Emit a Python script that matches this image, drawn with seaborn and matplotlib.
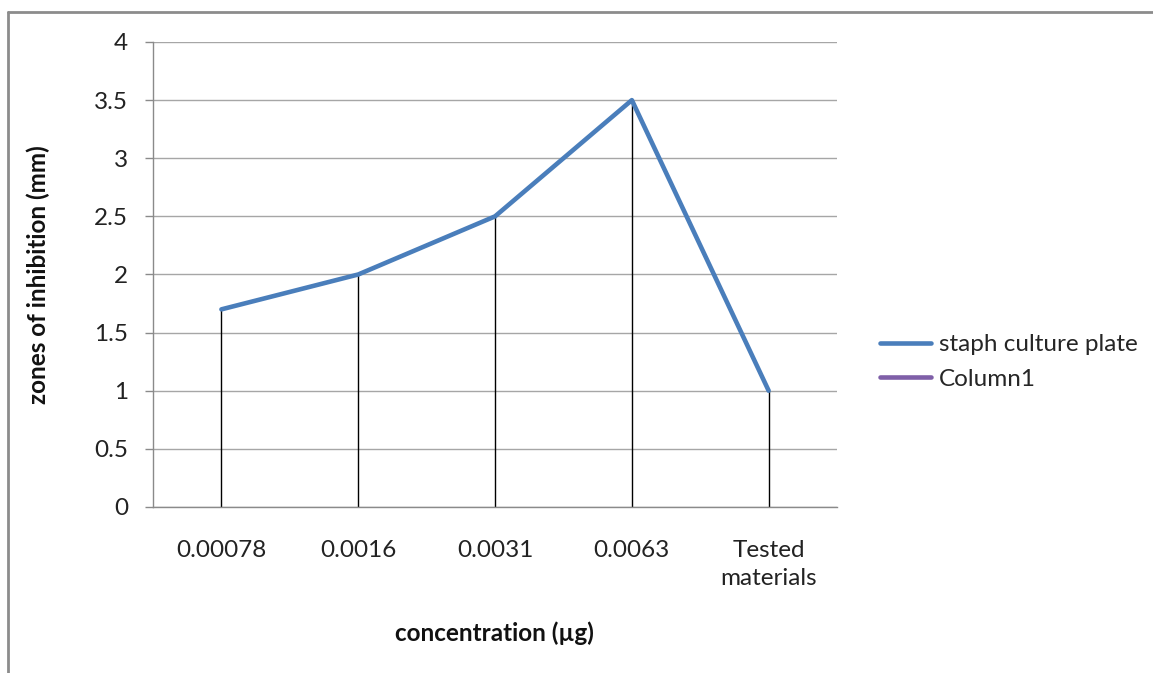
import matplotlib
matplotlib.use('Agg')
import matplotlib.pyplot as plt
from matplotlib.lines import Line2D
import seaborn as sns
import pandas as pd

concentrations = ['0.00078', '0.0016', '0.0031', '0.0063', 'Tested\nmaterials']
zones = [1.7, 2.0, 2.5, 3.5, 1.0]
y_ticks = [0, 0.5, 1, 1.5, 2, 2.5, 3, 3.5, 4]
y_tick_labels = ['0', '0.5', '1', '1.5', '2', '2.5', '3', '3.5', '4']

df = pd.DataFrame({'concentration': concentrations, 'zone': zones})

sns.set_style('white')
plt.rcParams['font.family'] = ['Lato', 'DejaVu Sans']

fig = plt.figure(figsize=(11.53, 6.73), dpi=100)
ax = fig.add_axes([0.1327, 0.2467, 0.5933, 0.6909])

pos = list(range(len(concentrations)))
# grid lines
for t in y_ticks:
    ax.axhline(t, color='#a6a6a6', lw=1, zorder=0)
# drop lines
ax.vlines(pos, 0, zones, color='black', lw=1, zorder=1)
sns.lineplot(data=df, x='concentration', y='zone', sort=False, color='#4a7ebb',
             lw=3.3, ax=ax, zorder=3, label='staph culture plate')

ax.set_xlim(-0.5, len(concentrations) - 0.5)
ax.set_ylim(0, 4)
ax.set_yticks(y_ticks)
ax.set_yticklabels(y_tick_labels, fontsize=17.5, color='#222222')
ax.set_xticks(pos)
ax.set_xticklabels(concentrations, fontsize=17.5, color='#222222', ha='center',
                   linespacing=1.4)
ax.tick_params(axis='y', length=6, width=1, color='#8a8a8a', pad=12, left=True)
ax.tick_params(axis='x', length=0, pad=24)

for s in ['top', 'right']:
    ax.spines[s].set_visible(False)
ax.spines['left'].set_color('#8a8a8a')
ax.spines['bottom'].set_color('#8a8a8a')
ax.spines['left'].set_linewidth(1)
ax.spines['bottom'].set_linewidth(1)

ax.set_xlabel('concentration (µg)', fontsize=17.5, fontweight='bold', color='#111111')
ax.set_ylabel('zones of inhibition (mm)', fontsize=17.5, fontweight='bold', color='#111111')
ax.xaxis.label.set_va('center')
ax.yaxis.label.set_va('center')
ax.xaxis.set_label_coords(0.4985, -0.271)
ax.yaxis.set_label_coords(-0.168, 0.499)

handles = [Line2D([], [], color='#4a7ebb', lw=3.3),
           Line2D([], [], color='#7f5fa8', lw=3.3)]
ax.legend(handles, ['staph culture plate', 'Column1'], loc='center left',
          bbox_to_anchor=(1.063, 0.312), frameon=False, fontsize=17.5,
          borderaxespad=0, borderpad=0,
          handlelength=2.1, handletextpad=0.3, labelspacing=0.55)

# outer frame lines
fig.add_artist(Line2D([8 / 1153, 1], [1 - 12 / 673, 1 - 12 / 673],
                      transform=fig.transFigure, color='#8c8c8c', lw=2))
fig.add_artist(Line2D([8 / 1153, 8 / 1153], [0, 1 - 12 / 673],
                      transform=fig.transFigure, color='#8c8c8c', lw=2))

fig.savefig('out.png', dpi=100)
